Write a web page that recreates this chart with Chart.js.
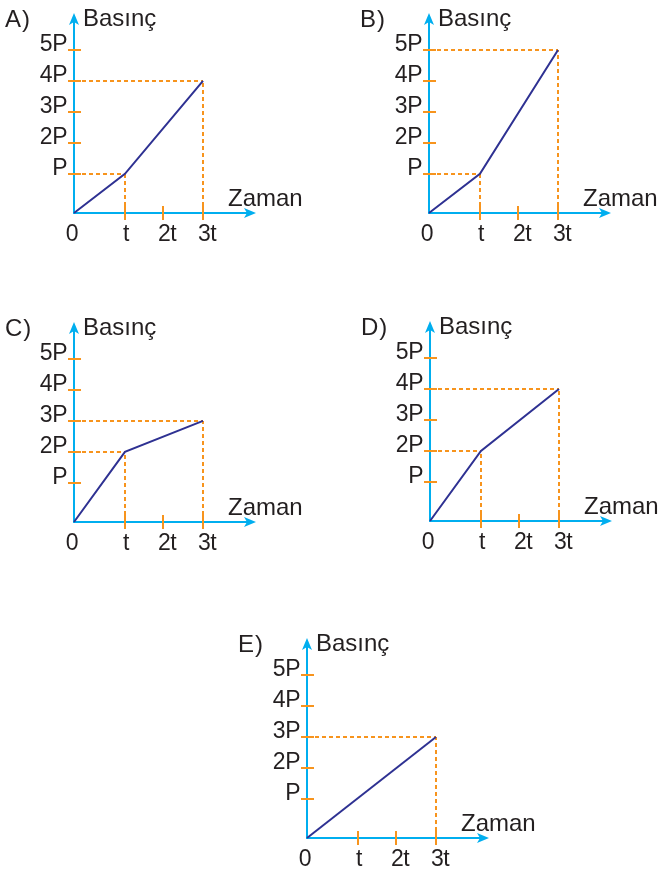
<!DOCTYPE html>
<html>
<head>
<meta charset="utf-8">
<script src="https://cdn.jsdelivr.net/npm/chart.js@4.4.1/dist/chart.umd.min.js"></script>
<style>
html,body{margin:0;padding:0;background:#fff;width:660px;height:869px;overflow:hidden;position:relative}
canvas{position:absolute}
</style>
</head>
<body>
<script>
// ---- data ----
const panelLabels = ['A)', 'B)', 'C)', 'D)', 'E)'];
const timeTickLabels = ['0', 't', '2t', '3t'];
const pressureTickLabels = ['', 'P', '2P', '3P', '4P', '5P'];
const xAxisTitle = 'Zaman';
const yAxisTitle = 'Basınç';

const timeA = [0, 1, 3], pressureA = [0, 1, 4];
const timeB = [0, 1, 3], pressureB = [0, 1, 5];
const timeC = [0, 1, 3], pressureC = [0, 2, 3];
const timeD = [0, 1, 3], pressureD = [0, 2, 4];
const timeE = [0, 3],    pressureE = [0, 3];

const seriesTimes = [timeA, timeB, timeC, timeD, timeE];
const seriesPressures = [pressureA, pressureB, pressureC, pressureD, pressureE];

// ---- layout / style ----
const panelPos = [[0, 0], [355, 0], [0, 309], [356, 308], [233, 625]];
const AXIS = '#00aeef', ORANGE = '#f7941d', NAVY = '#2e3192', TEXT = '#231f20';
const FONT = '"Liberation Sans", Arial, Helvetica, sans-serif';

// piecewise linear scale (drawing spacing of the original sketch)
class PiecewiseScale extends Chart.LinearScale {
  getPixelForValue(value) {
    const k = this.options.knots;
    const n = k.length - 1;
    const v = Math.max(0, Math.min(n, value));
    const i = Math.min(n - 1, Math.floor(v));
    const f = k[i] + (k[i + 1] - k[i]) * (v - i);
    return this.getPixelForDecimal(f);
  }
}
PiecewiseScale.id = 'piecewise';
PiecewiseScale.defaults = {};
Chart.register(PiecewiseScale);

function arrowHead(ctx, tx, ty, dir) {
  ctx.beginPath();
  if (dir === 'up') {
    ctx.moveTo(tx, ty);
    ctx.lineTo(tx + 5, ty + 12);
    ctx.lineTo(tx, ty + 9);
    ctx.lineTo(tx - 5, ty + 12);
  } else {
    ctx.moveTo(tx, ty);
    ctx.lineTo(tx - 12, ty - 5);
    ctx.lineTo(tx - 9, ty);
    ctx.lineTo(tx - 12, ty + 5);
  }
  ctx.closePath();
  ctx.fill();
}

const sketchPlugin = {
  id: 'sketch',
  beforeDatasetsDraw(chart, args, opts) {
    const ctx = chart.ctx, a = chart.chartArea;
    const x = chart.scales.x, y = chart.scales.y;
    const ox = x.getPixelForValue(0), oy = y.getPixelForValue(0);
    const topY = a.top - 37, rightX = a.right + 53;
    ctx.save();
    // axes
    ctx.strokeStyle = AXIS; ctx.fillStyle = AXIS; ctx.lineWidth = 2; ctx.setLineDash([]);
    ctx.beginPath();
    ctx.moveTo(ox, oy + 1); ctx.lineTo(ox, topY + 8);
    ctx.moveTo(ox - 1, oy); ctx.lineTo(rightX - 8, oy);
    ctx.stroke();
    arrowHead(ctx, ox, topY, 'up');
    arrowHead(ctx, rightX, oy, 'right');
    // ticks
    ctx.strokeStyle = ORANGE; ctx.lineWidth = 2;
    ctx.beginPath();
    pressureTickLabels.forEach((l, i) => {
      if (i === 0) return;
      const py = Math.round(y.getPixelForValue(i));
      ctx.moveTo(ox - 6, py); ctx.lineTo(ox + 7, py);
    });
    timeTickLabels.forEach((l, i) => {
      if (i === 0) return;
      const px = Math.round(x.getPixelForValue(i));
      ctx.moveTo(px, oy - 7); ctx.lineTo(px, oy + 7);
    });
    ctx.stroke();
    // dashed guides from each data point
    ctx.setLineDash([4, 3]); ctx.lineWidth = 2;
    const data = chart.data.datasets[0].data;
    data.forEach(p => {
      if (p.x <= 0 || p.y <= 0) return;
      const px = Math.round(x.getPixelForValue(p.x)), py = Math.round(y.getPixelForValue(p.y));
      ctx.beginPath();
      ctx.moveTo(ox + 1, py); ctx.lineTo(px, py);
      ctx.moveTo(px, oy); ctx.lineTo(px, py);
      ctx.stroke();
    });
    ctx.setLineDash([]);
    // texts
    ctx.fillStyle = TEXT;
    ctx.font = '23px ' + FONT;
    ctx.letterSpacing = '-0.5px';
    ctx.textBaseline = 'alphabetic';
    ctx.textAlign = 'right';
    pressureTickLabels.forEach((l, i) => {
      if (!l) return;
      const py = y.getPixelForValue(i);
      ctx.fillText(l, ox - 7, py + 1);
    });
    ctx.textAlign = 'center';
    timeTickLabels.forEach((l, i) => {
      const px = x.getPixelForValue(i);
      const dx = i === 0 ? -2 : (i === 1 ? 1 : 4);
      ctx.fillText(l, px + dx, oy + 28);
    });
    ctx.textAlign = 'left';
    ctx.font = '24px ' + FONT;
    ctx.letterSpacing = '0px';
    ctx.fillText(yAxisTitle, ox + 9, topY + 13);
    ctx.fillText(xAxisTitle, x.getPixelForValue(3) + 25, oy - 7);
    ctx.font = '24px ' + FONT;
    ctx.letterSpacing = '1px';
    ctx.fillText(opts.letter, ox - 69, topY + 14);
    ctx.restore();
  }
};

panelLabels.forEach((letter, idx) => {
  const cv = document.createElement('canvas');
  cv.width = 305; cv.height = 250;
  cv.style.left = panelPos[idx][0] + 'px';
  cv.style.top = panelPos[idx][1] + 'px';
  cv.style.width = '305px'; cv.style.height = '250px';
  document.body.appendChild(cv);
  const pts = seriesTimes[idx].map((t, j) => ({ x: t, y: seriesPressures[idx][j] }));
  new Chart(cv, {
    type: 'line',
    data: {
      datasets: [{
        data: pts,
        borderColor: NAVY,
        borderWidth: 2,
        pointRadius: 0,
        tension: 0,
        fill: false,
        clip: false
      }]
    },
    options: {
      responsive: false,
      animation: false,
      devicePixelRatio: 1,
      events: [],
      layout: { padding: { left: 74, right: 102, top: 50, bottom: 37 } },
      scales: {
        x: { type: 'piecewise', min: 0, max: 3, display: false, knots: [0, 0.395, 0.69, 1] },
        y: { type: 'piecewise', min: 0, max: 5, display: false, knots: [0, 0.24, 0.43, 0.62, 0.81, 1] }
      },
      plugins: {
        legend: { display: false },
        tooltip: { enabled: false },
        sketch: { letter: letter }
      }
    },
    plugins: [sketchPlugin]
  });
});
</script>
</body>
</html>
